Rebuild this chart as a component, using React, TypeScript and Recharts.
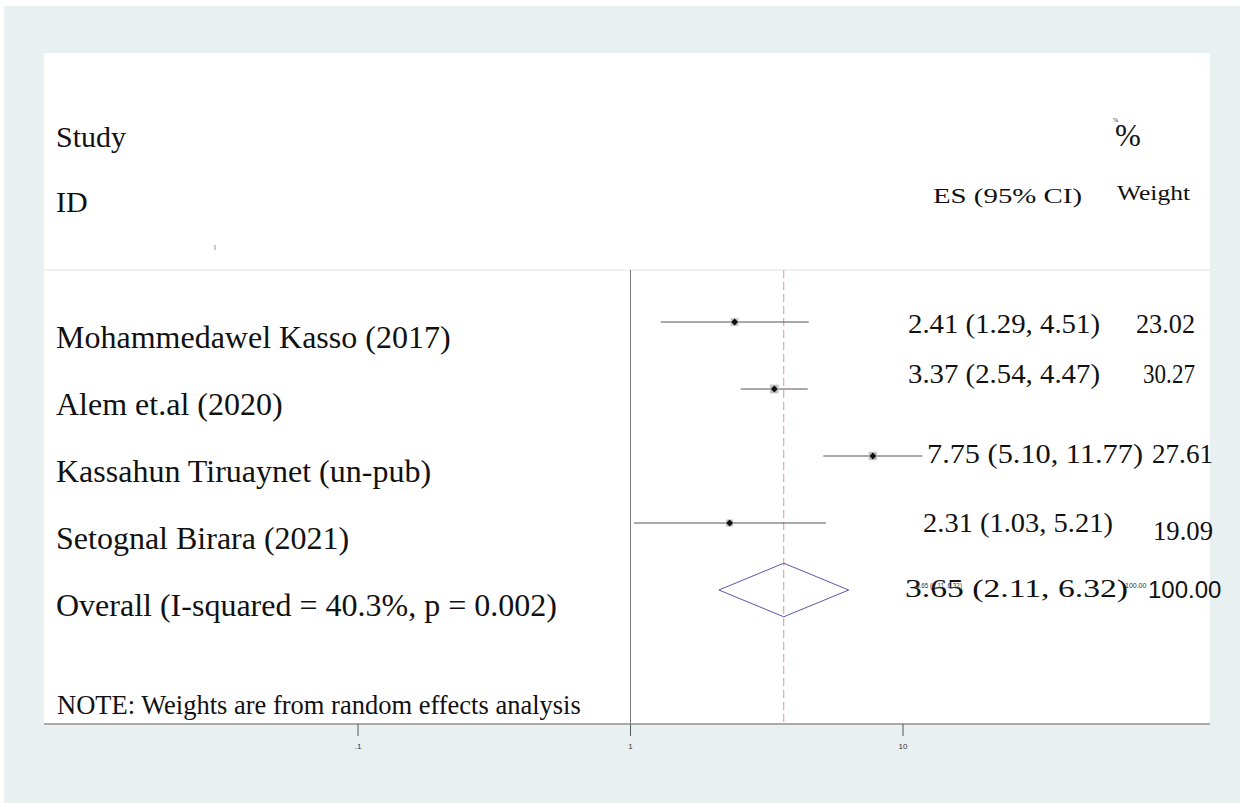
import React from "react"
import {
  ComposedChart,
  XAxis,
  YAxis,
  Scatter,
  ReferenceLine,
  CartesianGrid,
  Customized,
} from "recharts"

const studies = [
  "Mohammedawel Kasso (2017)",
  "Alem et.al (2020)",
  "Kassahun Tiruaynet (un-pub)",
  "Setognal Birara (2021)",
]
const effect = [2.41, 3.37, 7.75, 2.31]
const ciLow = [1.29, 2.54, 5.1, 1.03]
const ciHigh = [4.51, 4.47, 11.77, 5.21]
const weight = [23.02, 30.27, 27.61, 19.09]

const overallLabel = "Overall (I-squared = 40.3%, p = 0.002)"
const overallEffect = 3.65
const overallLow = 2.11
const overallHigh = 6.32
const overallWeight = 100.0

const xTicks = [0.1, 1, 10]
const xTickLabels = [".1", "1", "10"]
const noteText = "NOTE: Weights are from random effects analysis"

const SERIF = "'Liberation Serif', 'Times New Roman', serif"
const SANS = "'Liberation Sans', Arial, sans-serif"

const fmt = (v: number) => v.toFixed(2)

// row layout (pixel offsets, widths) - styling only
const sepRow = -0.776
const rowStyle = [
  { esX: 908, esDy: 11, esW: 192, wX: 1136, wDy: 11, wW: 59 },
  { esX: 908, esDy: -6, esW: 192, wX: 1143, wDy: -6, wW: 52 },
  { esX: 927, esDy: 7, esW: 216, wX: 1152, wDy: 7, wW: 61 },
  { esX: 923, esDy: 9, esW: 190, wX: 1153, wDy: 17, wW: 60 },
]

const studyRows = studies.map((s, i) => ({
  x: effect[i],
  y: i,
  w: weight[i],
  label: s,
  es: `${fmt(effect[i])} (${fmt(ciLow[i])}, ${fmt(ciHigh[i])})`,
  wt: fmt(weight[i]),
}))

const overallRow = [
  {
    x: overallEffect,
    y: studies.length,
    label: overallLabel,
    es: `${fmt(overallEffect)} (${fmt(overallLow)}, ${fmt(overallHigh)})`,
    wt: fmt(overallWeight),
  },
]

const oy = studies.length
const diamond = [
  { x: overallLow, y: oy },
  { x: overallEffect, y: oy - 0.4 },
  { x: overallHigh, y: oy },
  { x: overallEffect, y: oy + 0.4 },
  { x: overallLow, y: oy },
]

const Nothing = () => <g />

const BoxShape = (p: any) => {
  const { cx, cy, payload } = p
  const s = Math.sqrt(payload.w) * 1.6
  return (
    <g>
      <rect x={cx - s / 2} y={cy - s / 2} width={s} height={s} fill="#c4c4c4" />
      <polygon
        points={`${cx},${cy - 3.5} ${cx + 3.5},${cy} ${cx},${cy + 3.5} ${cx - 3.5},${cy}`}
        fill="#111"
      />
    </g>
  )
}

const StudyText = (p: any) => {
  const { cy, payload } = p
  const st = rowStyle[payload.y]
  return (
    <g fill="#111" fontFamily={SERIF}>
      <text x={56} y={cy + 26} fontSize={32}>{payload.label}</text>
      <text x={st.esX} y={cy + st.esDy} fontSize={28} textLength={st.esW} lengthAdjust="spacingAndGlyphs">
        {payload.es}
      </text>
      <text x={st.wX} y={cy + st.wDy} fontSize={28} textLength={st.wW} lengthAdjust="spacingAndGlyphs">
        {payload.wt}
      </text>
    </g>
  )
}

const OverallText = (p: any) => {
  const { cy, payload } = p
  return (
    <g fill="#111">
      <text x={56} y={cy + 26} fontSize={32} fontFamily={SERIF}>{payload.label}</text>
      <text x={905} y={cy + 7} fontSize={26} fontFamily={SERIF} textLength={223} lengthAdjust="spacingAndGlyphs">
        {payload.es}
      </text>
      <text x={916} y={cy - 2} fontSize={7} fontFamily={SANS} fill="#333" textLength={46} lengthAdjust="spacingAndGlyphs">
        {payload.es}
      </text>
      <text x={1125} y={cy - 2} fontSize={7} fontFamily={SANS} fill="#333">{payload.wt}</text>
      <text x={1148} y={cy + 8} fontSize={24} fontFamily={SANS}>{payload.wt}</text>
    </g>
  )
}

const Header = () => (
  <g fill="#111" fontFamily={SERIF}>
    <text x={56} y={147} fontSize={30}>Study</text>
    <text x={56} y={212} fontSize={30}>ID</text>
    <text x={933} y={203} fontSize={21} textLength={149} lengthAdjust="spacingAndGlyphs">ES (95% CI)</text>
    <text x={1117} y={200} fontSize={21} textLength={73} lengthAdjust="spacingAndGlyphs">Weight</text>
    <text x={1115} y={146} fontSize={31}>%</text>
    <text x={1113} y={122} fontSize={6}>%</text>
    <line x1={215} y1={245} x2={215} y2={250} stroke="#999" />
    <text x={57} y={714} fontSize={26.5}>{noteText}</text>
  </g>
)

export default function App() {
  return (
    <div style={{ position: "absolute", left: 0, top: 0, width: 1244, height: 803, background: "#fff" }}>
      <div style={{ position: "absolute", left: 4, top: 6, width: 1236, height: 797, background: "#e9f0f2" }} />
      <div style={{ position: "absolute", left: 0, top: 0 }}>
        <ComposedChart width={1244} height={803} margin={{ top: 53, right: 34, bottom: 39, left: 44 }}>
          <CartesianGrid horizontal={false} vertical={false} fill="#fff" />
          <XAxis
            type="number"
            dataKey="x"
            scale="log"
            domain={[0.007043, 133.8]}
            ticks={xTicks}
            tickFormatter={(v: number) => xTickLabels[xTicks.indexOf(v)] ?? String(v)}
            height={40}
            tickSize={12}
            tickMargin={7}
            axisLine={{ stroke: "#aaa", strokeWidth: 2 }}
            tickLine={{ stroke: "#555" }}
            tick={{ fontSize: 8, fill: "#333", fontFamily: SANS }}
          />
          <YAxis type="number" dataKey="y" domain={[-4.015, 6]} reversed hide />
          <ReferenceLine y={sepRow} stroke="#e2e2e2" />
          <ReferenceLine segment={[{ x: 1, y: sepRow }, { x: 1, y: 6 }]} stroke="#777" />
          <ReferenceLine
            segment={[{ x: overallEffect, y: sepRow }, { x: overallEffect, y: 6 }]}
            stroke="#d79797"
            strokeDasharray="8 4"
          />
          {studies.map((s, i) => (
            <ReferenceLine
              key={s}
              segment={[{ x: ciLow[i], y: i }, { x: ciHigh[i], y: i }]}
              stroke="#555"
            />
          ))}
          <Scatter data={diamond} line={{ stroke: "#5858a8", strokeWidth: 1 }} shape={Nothing} isAnimationActive={false} />
          <Scatter data={studyRows} shape={BoxShape} isAnimationActive={false} />
          <Scatter data={studyRows} shape={StudyText} isAnimationActive={false} />
          <Scatter data={overallRow} shape={OverallText} isAnimationActive={false} />
          <Customized component={Header} />
        </ComposedChart>
      </div>
    </div>
  )
}
